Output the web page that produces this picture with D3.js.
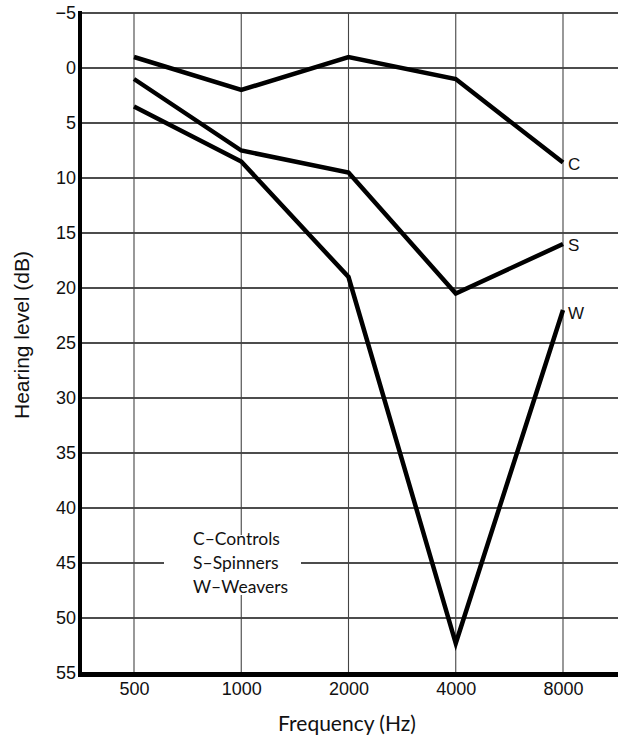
<!DOCTYPE html>
<html><head><meta charset="utf-8">
<script src="https://cdn.jsdelivr.net/npm/d3@7"></script>
<style>body{margin:0;background:#fff}svg{display:block}text{fill:#111}</style>
</head><body>
<svg id="c" width="618" height="738"></svg>
<script>
const frequencies = ["500","1000","2000","4000","8000"];
const yTicks = [-5,0,5,10,15,20,25,30,35,40,45,50,55];
const controls = [-1, 2, -1, 1, 8.6];
const spinners = [1, 7.5, 9.5, 20.5, 16];
const weavers = [3.5, 8.5, 19, 52.3, 22];
const seriesLabels = ["C","S","W"];
const legendLines = ["C–Controls","S–Spinners","W–Weavers"];

const HELV = "'Liberation Sans', Arial, sans-serif";
const GEO = "Lato, 'DejaVu Sans', sans-serif";

const svg = d3.select("#c");
const x = d3.scalePoint().domain(frequencies).range([134, 563]);
const y = d3.scaleLinear().domain([-5, 55]).range([13, 673]);
const left = 80, right = 618;

// horizontal gridlines
const hg = svg.append("g");
yTicks.forEach(t => {
  hg.append("line").attr("x1", left).attr("x2", right).attr("y1", y(t)).attr("y2", y(t))
    .attr("stroke", "#111").attr("stroke-width", 1.3);
});
// vertical gridlines
frequencies.forEach(f => {
  hg.append("line").attr("x1", x(f)).attr("x2", x(f)).attr("y1", y(-5)).attr("y2", y(55))
    .attr("stroke", "#444").attr("stroke-width", 1.1);
});

// legend knockout
svg.append("rect").attr("x", 164).attr("y", 535).attr("width", 137).attr("height", 60).attr("fill", "#fff");
const lg = svg.append("g");
legendLines.forEach((s, i) => {
  lg.append("text").attr("x", 193).attr("y", 545 + i*24).attr("font-size", 17.5)
    .style("font-family", GEO).text(s);
});

// data lines
const line = d3.line().x((d,i) => x(frequencies[i])).y(d => y(d));
[controls, spinners, weavers].forEach((s, k) => {
  svg.append("path").attr("d", line(s)).attr("fill", "none").attr("stroke", "#000")
    .attr("stroke-width", 4.5).attr("stroke-linejoin", "miter").attr("stroke-miterlimit", 10);
  svg.append("text").attr("x", x("8000") + 5).attr("y", y(s[4]) + (k===2 ? 9 : 7))
    .attr("font-size", 17).style("font-family", HELV).text(seriesLabels[k]);
});

// axes
const ax = svg.append("g").attr("transform", `translate(${left - 2},0)`)
  .call(d3.axisLeft(y).tickValues(yTicks).tickSize(0).tickPadding(2).tickFormat(d => d < 0 ? "−" + Math.abs(d) : d));
ax.select(".domain").remove();
ax.selectAll("text").attr("font-size", 18).style("font-family", HELV).attr("fill", "#111");
const bx = svg.append("g").attr("transform", `translate(0,${y(55)})`)
  .call(d3.axisBottom(x).tickSize(0).tickPadding(9));
bx.select(".domain").remove();
bx.selectAll("text").attr("font-size", 18).style("font-family", HELV).attr("fill", "#111");

svg.append("line").attr("x1", left).attr("x2", left).attr("y1", y(-5)-2).attr("y2", y(55)+3)
  .attr("stroke", "#000").attr("stroke-width", 4);
svg.append("line").attr("x1", left - 2).attr("x2", right).attr("y1", y(55)+1.5).attr("y2", y(55)+1.5)
  .attr("stroke", "#000").attr("stroke-width", 5);

svg.append("text").attr("x", 347).attr("y", 731).attr("text-anchor", "middle").attr("font-size", 21)
  .style("font-family", GEO).text("Frequency (Hz)");
svg.append("text").attr("transform", "translate(29,335) rotate(-90)").attr("text-anchor", "middle")
  .attr("font-size", 21).style("font-family", HELV).text("Hearing level (dB)");
</script>
</body></html>
